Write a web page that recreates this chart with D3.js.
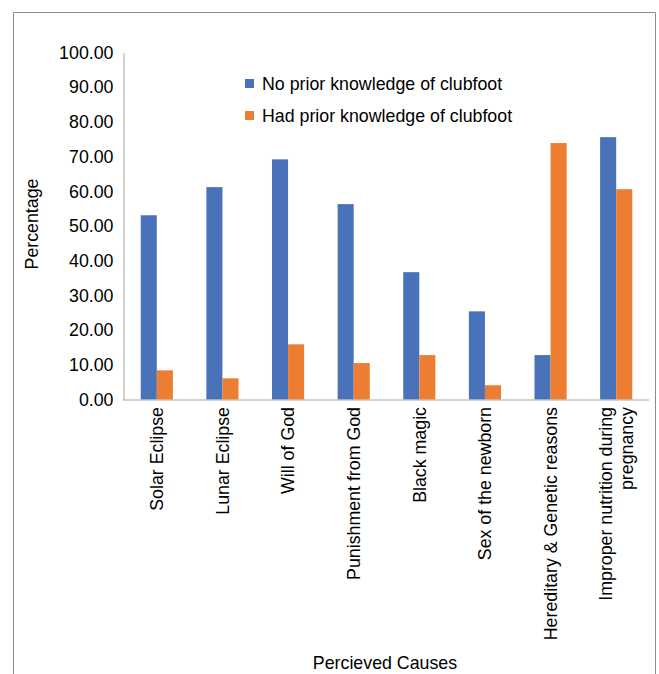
<!DOCTYPE html>
<html>
<head>
<meta charset="utf-8">
<script src="https://cdn.jsdelivr.net/npm/d3@7"></script>
<style>
  body { margin: 0; background: #fff; }
  svg text { font-family: "Liberation Sans", Arial, sans-serif; fill: #000; }
</style>
</head>
<body>
<div id="chart"></div>
<script>
(function() {
    "use strict";

    // data
    const causes = ["Solar Eclipse", "Lunar Eclipse", "Will of God", "Punishment from God",
                    "Black magic", "Sex of the newborn", "Hereditary & Genetic reasons",
                    "Improper nutrition during pregnancy"];
    const seriesNames = ["No prior knowledge of clubfoot", "Had prior knowledge of clubfoot"];
    const noPrior = [53.1, 61.2, 69.2, 56.3, 36.7, 25.4, 12.8, 75.6];
    const hadPrior = [8.4, 6.1, 15.9, 10.5, 12.8, 4.1, 73.9, 60.6];
    const yTicks = [0, 10, 20, 30, 40, 50, 60, 70, 80, 90, 100];
    const colors = ["#4A72B8", "#ED7D31"];
    const fs = "17.8px";

    const width = 659, height = 674;
    const svg = d3.select("#chart").append("svg").attr("width", width).attr("height", height);

    // frame round the chart (bottom edge runs off the picture)
    svg.append("path")
       .attr("d", "M13.5,690 V12.5 H655.5 V690")
       .attr("fill", "none").attr("stroke", "#8c8c8c").attr("stroke-width", 1);

    const x0 = d3.scaleBand().domain(causes).range([124, 649]).paddingInner(0.51).paddingOuter(0.255);
    const x1 = d3.scaleBand().domain([0, 1]).range([0, x0.bandwidth()]);
    const y = d3.scaleLinear().domain([0, 100]).range([399.5, 52.5]);

    // y axis
    const yAxis = svg.append("g").attr("transform", "translate(123.5,0)")
        .call(d3.axisLeft(y).tickValues(yTicks).tickSize(0).tickPadding(10).tickFormat(d3.format(".2f")));
    yAxis.select(".domain").attr("stroke", "#a6a6a6");
    yAxis.selectAll("text").attr("font-size", fs).attr("fill", "#000");

    // bars
    const rows = causes.map((c, i) => ({cause: c, vals: [noPrior[i], hadPrior[i]]}));
    const groups = svg.append("g").selectAll("g").data(rows).enter().append("g")
        .attr("transform", d => "translate(" + x0(d.cause) + ",0)");
    groups.selectAll("rect").data(d => d.vals.map((v, k) => ({k: k, v: v}))).enter().append("rect")
        .attr("x", d => x1(d.k))
        .attr("width", x1.bandwidth())
        .attr("y", d => y(d.v))
        .attr("height", d => y(0) - y(d.v))
        .attr("fill", d => colors[d.k]);

    // x axis
    const xAxis = svg.append("g").attr("transform", "translate(0,399.5)")
        .call(d3.axisBottom(x0).tickSize(0).tickFormat(""));
    xAxis.select(".domain").attr("stroke", "#a6a6a6").attr("d", "M123,0.5H649");

    // rotated category labels
    const labels = svg.append("g").selectAll("text").data(causes).enter().append("text")
        .attr("transform", d => "translate(" + (x0(d) + x0.bandwidth() / 2) + ",407) rotate(-90)")
        .attr("text-anchor", "end")
        .attr("font-size", fs);
    labels.each(function(d) {
        const t = d3.select(this);
        if (d === "Improper nutrition during pregnancy") {
            t.append("tspan").attr("x", 0).attr("dy", "-0.25em").text("Improper nutrition during");
            t.append("tspan").attr("x", 0).attr("dy", "1.2em").text("pregnancy");
        } else {
            t.append("tspan").attr("x", 0).attr("dy", "0.35em").text(d);
        }
    });

    // legend
    const legend = svg.append("g").selectAll("g").data(seriesNames).enter().append("g")
        .attr("transform", (d, i) => "translate(245," + (79 + i * 32) + ")");
    legend.append("rect").attr("width", 9).attr("height", 9).attr("fill", (d, i) => colors[i]);
    legend.append("text").attr("x", 17).attr("y", 4.5).attr("dy", "0.35em")
        .attr("font-size", fs).text(d => d);

    // axis titles
    svg.append("text").attr("transform", "translate(32,224) rotate(-90)")
        .attr("text-anchor", "middle").attr("dy", "0.35em").attr("font-size", fs).text("Percentage");
    svg.append("text").attr("x", 385).attr("y", 663).attr("dy", "0.35em")
        .attr("text-anchor", "middle").attr("font-size", fs).text("Percieved Causes");
})();
</script>
</body>
</html>
